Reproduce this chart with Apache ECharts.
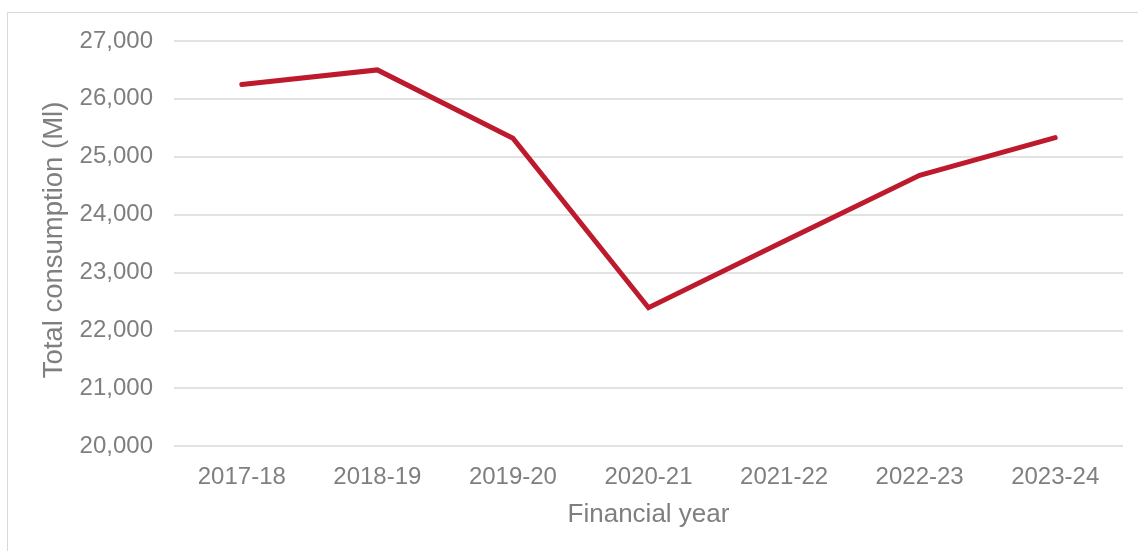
<!DOCTYPE html>
<html>
<head>
<meta charset="utf-8">
<script src="https://cdn.jsdelivr.net/npm/echarts@6/dist/echarts.min.js"></script>
<style>
html,body{margin:0;padding:0;background:#fff;}
#chart{width:1138px;height:551px;}
</style>
</head>
<body>
<div id="chart"></div>
<script>
const categories = ['2017-18','2018-19','2019-20','2020-21','2021-22','2022-23','2023-24'];
const consumption = [26250, 26500, 25320, 22390, 23540, 24680, 25330];
const yTicks = { min: 20000, max: 27000, interval: 1000 };
const xTitle = 'Financial year';
const yTitle = 'Total consumption (Ml)';

const chart = echarts.init(document.getElementById('chart'), null, {renderer:'canvas'});
const font = 'Liberation Sans, Arial, sans-serif';
chart.setOption({
  animation: false,
  backgroundColor: '#fff',
  graphic: [{
    type: 'rect',
    shape: {x: 7.5, y: 12.5, width: 1200, height: 600},
    style: {fill: 'none', stroke: '#d9d9d9', lineWidth: 1},
    silent: true
  }],
  grid: {left: 174, right: 15, top: 41, bottom: 105, containLabel: false},
  xAxis: {
    type: 'category',
    data: categories,
    boundaryGap: true,
    name: xTitle,
    nameLocation: 'middle',
    nameGap: 56,
    nameTextStyle: {color: '#7f7f7f', fontSize: 26, fontFamily: font},
    axisLine: {show: false},
    axisTick: {show: false},
    axisLabel: {color: '#7f7f7f', fontSize: 24, fontFamily: font, margin: 19}
  },
  yAxis: {
    type: 'value',
    min: yTicks.min, max: yTicks.max, interval: yTicks.interval,
    name: yTitle,
    nameLocation: 'middle',
    nameGap: 106,
    nameRotate: 90,
    nameTextStyle: {color: '#7f7f7f', fontSize: 27.5, fontFamily: font, padding: [0, 0, 0, 7]},
    axisLine: {show: false},
    axisTick: {show: false},
    axisLabel: {
      color: '#7f7f7f', fontSize: 24, fontFamily: font, margin: 21,
      formatter: v => v.toLocaleString('en-US')
    },
    splitLine: {lineStyle: {color: '#d9d9d9', width: 1.5}}
  },
  series: [{
    type: 'line',
    data: consumption,
    symbol: 'none',
    lineStyle: {color: '#BE1A2D', width: 5, cap: 'round', join: 'miter'},
    itemStyle: {color: '#BE1A2D'}
  }]
});
</script>
</body>
</html>
